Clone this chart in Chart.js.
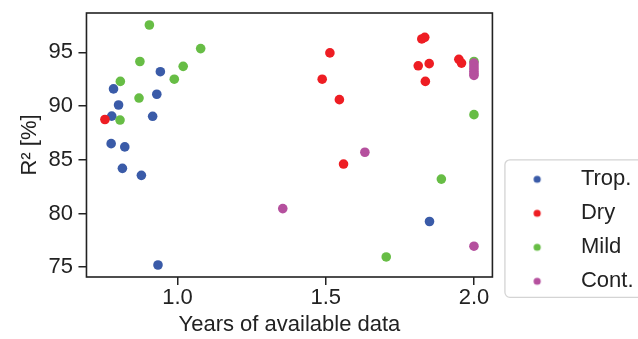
<!DOCTYPE html>
<html>
<head>
<meta charset="utf-8">
<script src="https://cdn.jsdelivr.net/npm/chart.js@4/dist/chart.umd.min.js"></script>
<style>
  html, body { margin: 0; padding: 0; background: #ffffff; overflow: hidden; }
  canvas { display: block; }
</style>
</head>
<body>
<canvas id="c" width="638" height="339"></canvas>
<script>
// ---- data ----
const seriesNames = ['Trop.', 'Dry', 'Mild', 'Cont.'];

const tropX = [0.778, 0.784, 0.801, 0.776, 0.822, 0.814, 0.878, 0.916, 0.930, 0.942, 0.934, 1.850];
const tropY = [89.06, 91.60, 90.10, 86.50, 86.20, 84.20, 83.55, 89.05, 91.10, 93.20, 75.20, 79.25];

const dryX = [0.755, 1.514, 1.488, 1.546, 1.560, 1.824, 1.834, 1.812, 1.849, 1.836, 1.949, 1.958];
const dryY = [88.75, 94.95, 92.50, 90.60, 84.60, 96.25, 96.40, 93.75, 93.95, 92.30, 94.35, 94.00];

const mildX = [0.807, 0.806, 0.905, 0.873, 0.870, 0.989, 1.019, 1.078, 2.000, 2.000, 1.890, 1.704];
const mildY = [92.30, 88.70, 97.55, 94.15, 90.75, 92.50, 93.70, 95.35, 94.15, 89.20, 83.20, 75.95];

const contX = [1.355, 1.632, 2.000, 2.000, 2.000, 2.000, 2.000, 2.000, 2.000];
const contY = [80.45, 85.70, 94.00, 93.75, 93.50, 93.25, 93.00, 92.85, 76.95];

const xTicks = [1.0, 1.5, 2.0];
const yTicks = [75, 80, 85, 90, 95];

const colors = ['#3a5ba8', '#ee1d23', '#67bd45', '#b5509e'];

// ---- build chart ----
const allX = [].concat(tropX, dryX, mildX, contX);
const allY = [].concat(tropY, dryY, mildY, contY);
function padRange(arr) {
  const lo = Math.min(...arr), hi = Math.max(...arr), m = (hi - lo) * 0.05;
  return [lo - m, hi + m];
}
const [xMin, xMax] = padRange(allX);
const [yMin, yMax] = padRange(allY);

function pts(xs, ys) { return xs.map((x, i) => ({ x: x, y: ys[i] })); }
const seriesData = [pts(tropX, tropY), pts(dryX, dryY), pts(mildX, mildY), pts(contX, contY)];

function makeDot(color, r) {
  const c = document.createElement('canvas');
  const s = Math.ceil(r * 2 + 2);
  c.width = s; c.height = s;
  const g = c.getContext('2d');
  g.fillStyle = color;
  g.beginPath(); g.arc(s / 2, s / 2, r, 0, Math.PI * 2); g.fill();
  return c;
}
const legendDots = colors.map(c => makeDot(c, 3.6));

const FONT = "'Liberation Sans', Arial, sans-serif";
const INK = '#222222';

const frame = {
  id: 'frame',
  afterDraw(chart) {
    const { ctx, chartArea: a } = chart;
    ctx.save();
    ctx.strokeStyle = INK;
    ctx.lineWidth = 1.6;
    ctx.strokeRect(a.left, a.top, a.right - a.left, a.bottom - a.top);
    // legend frame
    const lg = chart.legend;
    if (lg && lg.legendHitBoxes && lg.legendHitBoxes.length) {
      const hb = lg.legendHitBoxes;
      const x0 = lg.left + 12.5;
      const y0 = hb[0].top - 8.5;
      const y1 = hb[hb.length - 1].top + hb[hb.length - 1].height + 5;
      const x1 = x0 + 160;
      const r = 5;
      ctx.strokeStyle = '#d4d4d4';
      ctx.lineWidth = 1.3;
      ctx.beginPath();
      ctx.moveTo(x0 + r, y0);
      ctx.lineTo(x1 - r, y0);
      ctx.arcTo(x1, y0, x1, y0 + r, r);
      ctx.lineTo(x1, y1 - r);
      ctx.arcTo(x1, y1, x1 - r, y1, r);
      ctx.lineTo(x0 + r, y1);
      ctx.arcTo(x0, y1, x0, y1 - r, r);
      ctx.lineTo(x0, y0 + r);
      ctx.arcTo(x0, y0, x0 + r, y0, r);
      ctx.closePath();
      ctx.stroke();
    }
    ctx.restore();
  }
};

new Chart(document.getElementById('c'), {
  type: 'scatter',
  data: {
    datasets: seriesNames.map((name, i) => ({
      label: name,
      data: seriesData[i],
      backgroundColor: colors[i],
      borderColor: colors[i],
      borderWidth: 0,
      pointRadius: 4.8,
      pointHoverRadius: 4.8,
      order: seriesNames.length - i
    }))
  },
  options: {
    responsive: false,
    animation: false,
    devicePixelRatio: 1,
    events: [],
    layout: { padding: { left: 0, right: -5.5, top: 13, bottom: 0 } },
    plugins: {
      tooltip: { enabled: false },
      legend: {
        position: 'right',
        align: 'start',
        title: { display: true, text: '', font: { size: 10, lineHeight: 1.2 }, padding: { top: 131.3, bottom: 0 } },
        labels: {
          usePointStyle: true,
          pointStyleWidth: 65.5,
          padding: 12,
          color: INK,
          font: { family: FONT, size: 22, lineHeight: 1 },
          sort: (a, b) => a.datasetIndex - b.datasetIndex,
          generateLabels(chart) {
            const items = Chart.defaults.plugins.legend.labels.generateLabels(chart);
            items.forEach(it => { it.pointStyle = legendDots[it.datasetIndex]; it.lineWidth = 0; });
            return items;
          }
        }
      }
    },
    scales: {
      x: {
        type: 'linear',
        min: xMin,
        max: xMax,
        afterBuildTicks(scale) { scale.ticks = xTicks.map(v => ({ value: v })); },
        grid: { display: true, drawOnChartArea: false, drawTicks: true, tickLength: 8, color: INK, lineWidth: 1.5 },
        border: { display: false },
        ticks: {
          color: INK, padding: 2, maxRotation: 0, autoSkip: false,
          font: { family: FONT, size: 22, lineHeight: 1 },
          callback: v => Number(v).toFixed(1)
        },
        title: {
          display: true, text: 'Years of available data', color: INK,
          font: { family: FONT, size: 22, lineHeight: 1 },
          padding: { top: 3, bottom: 3 }
        }
      },
      y: {
        type: 'linear',
        min: yMin,
        max: yMax,
        afterBuildTicks(scale) { scale.ticks = yTicks.map(v => ({ value: v })); },
        grid: { display: true, drawOnChartArea: false, drawTicks: true, tickLength: 8, color: INK, lineWidth: 1.5 },
        border: { display: false },
        ticks: {
          color: INK, padding: 5.5, autoSkip: false,
          font: { family: FONT, size: 22, lineHeight: 0.6 },
          callback: v => String(v)
        },
        title: {
          display: true, text: 'R² [%]', color: INK,
          font: { family: FONT, size: 22, lineHeight: 1 },
          padding: { top: 19, bottom: 2 }
        }
      }
    }
  },
  plugins: [frame]
});
</script>
</body>
</html>
